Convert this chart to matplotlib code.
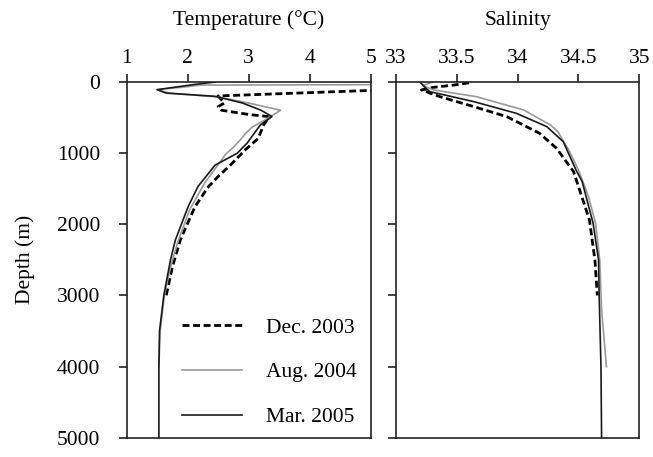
import matplotlib
matplotlib.use("Agg")
import matplotlib.pyplot as plt

plt.rcParams['font.family'] = ['Liberation Serif', 'DejaVu Serif']
plt.rcParams['font.size'] = 15.5

# ---- data: temperature (°C) vs depth (m)
dec03_T = [7.0, 2.5, 2.6, 2.5, 2.55, 3.0, 3.33, 3.25, 3.15, 2.95, 2.7, 2.5, 2.34, 2.12, 1.88, 1.75, 1.65]
dec03_Td = [60, 200, 300, 350, 400, 460, 490, 600, 800, 950, 1170, 1330, 1473, 1754, 2221, 2600, 3000]

aug04_T = [8.0, 2.2, 2.0, 1.5, 1.7, 2.5, 3.0, 3.52, 3.3, 3.05, 2.95, 2.86, 2.75, 2.62, 2.52, 2.28, 2.03, 1.84, 1.72, 1.62, 1.55, 1.53]
aug04_Td = [35, 48, 70, 112, 160, 215, 300, 400, 520, 640, 724, 818, 920, 1020, 1140, 1420, 1800, 2250, 2600, 3000, 3500, 4000]

mar05_T = [2.45, 2.1, 1.5, 1.65, 2.45, 2.9, 3.2, 3.38, 3.19, 2.97, 2.81, 2.45, 2.17, 2.01, 1.80, 1.72, 1.61, 1.54, 1.53, 1.53]
mar05_Td = [5, 40, 112, 160, 205, 300, 400, 490, 607, 865, 1005, 1170, 1470, 1750, 2220, 2500, 3000, 3500, 4000, 5000]

# ---- data: salinity vs depth (m)
dec03_S = [33.6, 33.48, 33.31, 33.21, 33.36, 33.64, 33.91, 34.18, 34.32, 34.46, 34.59, 34.635, 34.655]
dec03_Sd = [15, 46, 79, 116, 210, 350, 490, 724, 935, 1263, 1940, 2500, 3000]

aug04_S = [33.3, 33.22, 33.31, 33.66, 34.05, 34.27, 34.33, 34.42, 34.50, 34.58, 34.64, 34.675, 34.69, 34.73]
aug04_Sd = [5, 55, 116, 210, 397, 608, 700, 958, 1240, 1600, 1985, 2500, 3200, 4000]

mar05_S = [33.2, 33.22, 33.25, 33.28, 33.64, 33.99, 34.24, 34.375, 34.48, 34.53, 34.62, 34.665, 34.67, 34.685, 34.69]
mar05_Sd = [10, 46, 100, 140, 280, 444, 631, 842, 1240, 1400, 1985, 2500, 3000, 4000, 5000]

labels = ["Dec. 2003", "Aug. 2004", "Mar. 2005"]
temp_ticks = [1, 2, 3, 4, 5]
temp_ticklabels = ["1", "2", "3", "4", "5"]
sal_ticks = [33, 33.5, 34, 34.5, 35]
sal_ticklabels = ["33", "33.5", "34", "34.5", "35"]
depth_ticks = [0, 1000, 2000, 3000, 4000, 5000]

fig = plt.figure(figsize=(6.53, 4.57), dpi=100)
ax1 = fig.add_axes([126.5/653, 19/457, 244.5/653, 356.3/457])
ax2 = fig.add_axes([396/653, 19/457, 243.3/653, 356.3/457])

dash_kw = dict(color='black', lw=2.0, linestyle=(0, (2.5, 1.3)))
aug_kw = dict(color='#9a9a9a', lw=1.2)
mar_kw = dict(color='#1a1a1a', lw=1.2)

ax1.plot(dec03_T, dec03_Td, label=labels[0], **dash_kw)
ax1.plot(aug04_T, aug04_Td, label=labels[1], **aug_kw)
ax1.plot(mar05_T, mar05_Td, label=labels[2], **mar_kw)

ax2.plot(dec03_S, dec03_Sd, **dash_kw)
ax2.plot(aug04_S, aug04_Sd, **aug_kw)
ax2.plot(mar05_S, mar05_Sd, **mar_kw)

for ax in (ax1, ax2):
    ax.set_ylim(5000, 0)
    ax.set_yticks(depth_ticks)
    ax.xaxis.tick_top()
    ax.xaxis.set_label_position('top')
    ax.tick_params(axis='both', direction='out', length=6, width=1.2, color='#222222')
    ax.tick_params(axis='x', pad=4)
    ax.tick_params(axis='y', pad=13)
    for s in ax.spines.values():
        s.set_linewidth(1.2)
        s.set_color('#222222')

ax1.set_xlim(1, 5)
ax1.set_xticks(temp_ticks)
ax1.set_xticklabels(temp_ticklabels)
ax1.set_yticklabels([str(d) for d in depth_ticks])
ax1.set_xlabel("Temperature (°C)", labelpad=17)
ax1.set_ylabel("Depth (m)", labelpad=16)

ax2.set_xlim(33, 35)
ax2.set_xticks(sal_ticks)
ax2.set_xticklabels(sal_ticklabels)
ax2.set_yticklabels([])
ax2.set_xlabel("Salinity", labelpad=17)

ax1.legend(loc='lower right', bbox_to_anchor=(0.94, 0.03), frameon=False,
           borderpad=0, borderaxespad=0, handlelength=2.8, handletextpad=1.1,
           labelspacing=1.15)

fig.savefig("out.png", dpi=100)
